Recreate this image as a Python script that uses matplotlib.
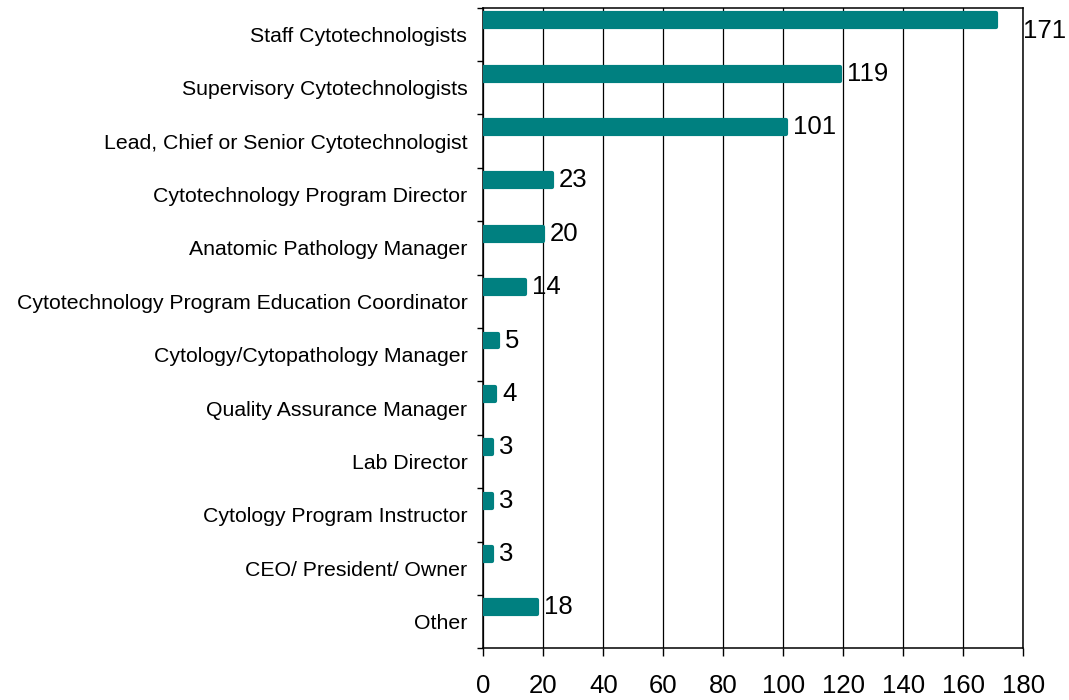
import numpy as np
import matplotlib
matplotlib.use("Agg")
import matplotlib.pyplot as plt

plt.rcParams['font.family'] = ['Liberation Sans', 'DejaVu Sans']

# data, top to bottom
categories = [
    "Staff Cytotechnologists",
    "Supervisory Cytotechnologists",
    "Lead, Chief or Senior Cytotechnologist",
    "Cytotechnology Program Director",
    "Anatomic Pathology Manager",
    "Cytotechnology Program Education Coordinator",
    "Cytology/Cytopathology Manager",
    "Quality Assurance Manager",
    "Lab Director",
    "Cytology Program Instructor",
    "CEO/ President/ Owner",
    "Other",
]
counts = [171, 119, 101, 23, 20, 14, 5, 4, 3, 3, 3, 18]
x_ticks = [0, 20, 40, 60, 80, 100, 120, 140, 160, 180]

bar_color = '#008080'
num_size = 18.5

fig = plt.figure(figsize=(10.69, 7.0), dpi=100)
ax = fig.add_axes([0.4521, 0.0739, 0.5051, 0.9151])

n = len(categories)
pos = np.arange(n)
x_max = x_ticks[-1]

# bars sit in the upper part of each band, rounded corners via round-joined edge
ax.barh(pos + 0.235, counts, height=0.26, color=bar_color,
        edgecolor=bar_color, linewidth=3, joinstyle='round', zorder=3)

for y, v in zip(pos, counts):
    if v + 14 > x_max:
        # label does not fit inside the plot, push it past the right edge and a bit down
        ax.text(x_max, y + 0.43, str(v), va='center', ha='left', fontsize=num_size)
    else:
        ax.text(v + 2.3, y + 0.235, str(v), va='center', ha='left', fontsize=num_size)

ax.set_xlim(0, x_max)
ax.set_ylim(n, 0)

ax.set_xticks(x_ticks)
ax.set_xticklabels([str(t) for t in x_ticks], fontsize=num_size)
ax.tick_params(axis='x', direction='out', length=6, width=1, pad=12.5)

ax.set_yticks(pos + 0.5)
ax.set_yticklabels(categories, fontsize=15.3)
ax.set_yticks(np.arange(n + 1), minor=True)
ax.tick_params(axis='y', which='major', length=0, pad=11.5)
ax.tick_params(axis='y', which='minor', length=4.5, width=1)

ax.grid(axis='x', color='black', linewidth=0.9, zorder=0)
ax.set_axisbelow(True)
for s in ax.spines.values():
    s.set_linewidth(1.1)
    s.set_color('black')

fig.savefig('out.png', dpi=100)
